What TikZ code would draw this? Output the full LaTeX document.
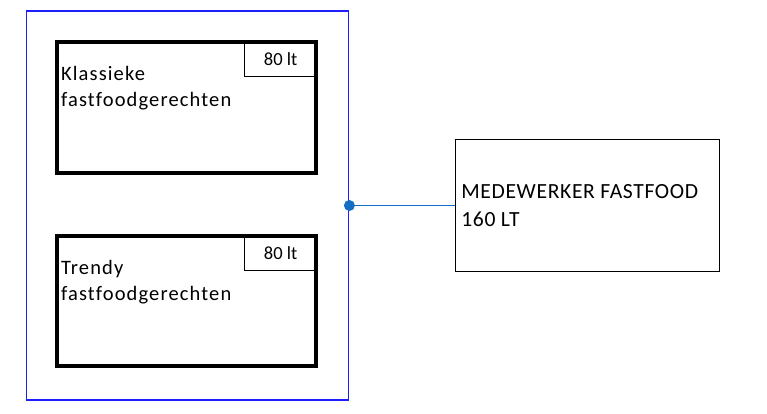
\documentclass[tikz,border=0pt]{standalone}
\usepackage{fontspec}
\setmainfont{Carlito}[Ligatures=NoCommon]
\usepackage{tikz}
\usetikzlibrary{positioning}

\definecolor{groupblue}{RGB}{30,30,250}
\definecolor{linkblue}{RGB}{20,110,195}

\tikzset{
    menubox/.style={draw=black,line width=3.2pt,minimum width=259pt,minimum height=130pt,inner sep=0pt},
    tagbox/.style={draw=black,line width=1pt,minimum width=73pt,minimum height=36pt,inner sep=0pt,font=\fontsize{18.5}{22}\selectfont},
    boxtext/.style={anchor=north west,align=left,inner sep=0pt,font=\fontsize{20.5}{26}\selectfont\addfontfeature{LetterSpace=5.5}},
}

\begin{document}
\begin{tikzpicture}[x=1pt,y=-1pt]
        \useasboundingbox (0,0) rectangle (767,413);
        % blauwe groep links
        \node[draw=groupblue,line width=1.8pt,minimum width=322pt,minimum height=389pt] (groep) at (187.5,205.5) {};
        % twee soorten gerechten
        \node[menubox,minimum height=131pt] (klassiek) at (186.5,107.5) {};
        \node[tagbox,anchor=north east] (klassiekTag) at (klassiek.north east) {80 lt};
        \node[boxtext] (klassiekTxt) at ([xshift=5.5pt,yshift=-25.5pt]klassiek.north west) {Klassieke\\fastfoodgerechten};
        \node[menubox] (trendy) at (186.5,301) {};
        \node[tagbox,anchor=north east] (trendyTag) at (trendy.north east) {80 lt};
        \node[boxtext] (trendyTxt) at ([xshift=5.5pt,yshift=-25.5pt]trendy.north west) {Trendy\\fastfoodgerechten};
        % medewerker rechts
        \node[draw=black,line width=1.4pt,minimum width=264pt,minimum height=132pt] (medewerker) at (587.3,205.5) {};
        \node[boxtext,font=\fontsize{21.6}{27.7}\selectfont\addfontfeature{LetterSpace=3}] (medewerkerTxt) at ([xshift=6.5pt,yshift=-45.5pt]medewerker.north west) {MEDEWERKER FASTFOOD\\160 LT};
        \draw[linkblue,line width=1.5pt] (groep.east) -- (medewerker.west);
        \fill[linkblue] (groep.east) circle (5.5pt);
    \end{tikzpicture}
\end{document}
